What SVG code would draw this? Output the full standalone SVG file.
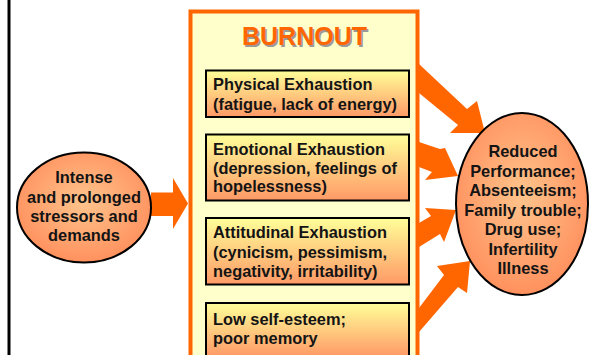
<svg xmlns="http://www.w3.org/2000/svg" width="593" height="355" viewBox="0 0 593 355">
<defs>
<linearGradient id="boxGrad" x1="0" y1="0" x2="0" y2="1">
<stop offset="0" stop-color="#FFFF99"/>
<stop offset="1" stop-color="#FF9966"/>
</linearGradient>
<radialGradient id="ellGrad" cx="0.5" cy="0.45" r="0.55">
<stop offset="0" stop-color="#FFC48C"/>
<stop offset="1" stop-color="#FF915E"/>
</radialGradient>
</defs>
<style>
.t{font-family:"Liberation Sans",Arial,sans-serif;font-weight:bold;font-size:16.4px;fill:#141414}
.c{text-anchor:middle}
.box{fill:url(#boxGrad);stroke:#000;stroke-width:2}
.ell{fill:url(#ellGrad);stroke:#000;stroke-width:2}
.arr{fill:#FF6600}
.title{font-family:"Liberation Sans",Arial,sans-serif;font-weight:bold;font-size:25px;text-anchor:middle}
</style>
<rect width="593" height="355" fill="#fff"/>
<line x1="9" y1="0" x2="9" y2="355" stroke="#000" stroke-width="3"/>
<g id="connectors">
<polygon class="arr" points="151,192.5 173,192.5 173,178 188,203.5 173,229 173,216 151,216"/>
<polygon class="arr" points="419,64 467,109 477,101 485,133 450,133 458,125 419,93"/>
<polygon class="arr" points="419,142 440,149 445,148 458,176 425,180 432,172 419,167"/>
<polygon class="arr" points="419,223 431,216 425,208 456,210 444,242 440,234 419,247"/>
<polygon class="arr" points="419,308 444,275 437,266 470,261 467,293 458,287 419,332"/>
</g>
<g id="burnout">
<rect x="190.5" y="11.5" width="227" height="360" fill="#FFFFCC" stroke="#FF6600" stroke-width="4"/>
<text class="title" x="306" y="46.5" fill="#9a9a9a">BURNOUT</text>
<text class="title" x="304.5" y="45" fill="#FF6600">BURNOUT</text>
</g>
<g id="physical">
<rect class="box" x="206" y="70.5" width="203" height="46.5"/>
<text class="t" x="213" y="90">Physical Exhaustion</text>
<text class="t" x="213" y="109.5">(fatigue, lack of energy)</text>
</g>
<g id="emotional">
<rect class="box" x="206" y="134.5" width="203" height="66"/>
<text class="t" x="213" y="155">Emotional Exhaustion</text>
<text class="t" x="213" y="173.5">(depression, feelings of</text>
<text class="t" x="213" y="192">hopelessness)</text>
</g>
<g id="attitudinal">
<rect class="box" x="206" y="218" width="203" height="66.5"/>
<text class="t" x="213" y="238">Attitudinal Exhaustion</text>
<text class="t" x="213" y="257.5">(cynicism, pessimism,</text>
<text class="t" x="213" y="277">negativity, irritability)</text>
</g>
<g id="selfesteem">
<rect class="box" x="206" y="303" width="203" height="54"/>
<text class="t" x="213" y="325">Low self-esteem;</text>
<text class="t" x="213" y="343.5">poor memory</text>
</g>
<g id="stressors">
<ellipse class="ell" cx="84" cy="207.5" rx="67" ry="55"/>
<text class="t c" x="84" y="183">Intense</text>
<text class="t c" x="84" y="202.5">and prolonged</text>
<text class="t c" x="84" y="221.5">stressors and</text>
<text class="t c" x="84" y="240.5">demands</text>
</g>
<g id="outcomes">
<ellipse class="ell" cx="522" cy="204" rx="66" ry="91"/>
<text class="t c" x="523" y="157">Reduced</text>
<text class="t c" x="523" y="176.5">Performance;</text>
<text class="t c" x="523" y="196">Absenteeism;</text>
<text class="t c" x="523" y="215.5">Family trouble;</text>
<text class="t c" x="523" y="235">Drug use;</text>
<text class="t c" x="523" y="254.5">Infertility</text>
<text class="t c" x="523" y="274">Illness</text>
</g>
</svg>
